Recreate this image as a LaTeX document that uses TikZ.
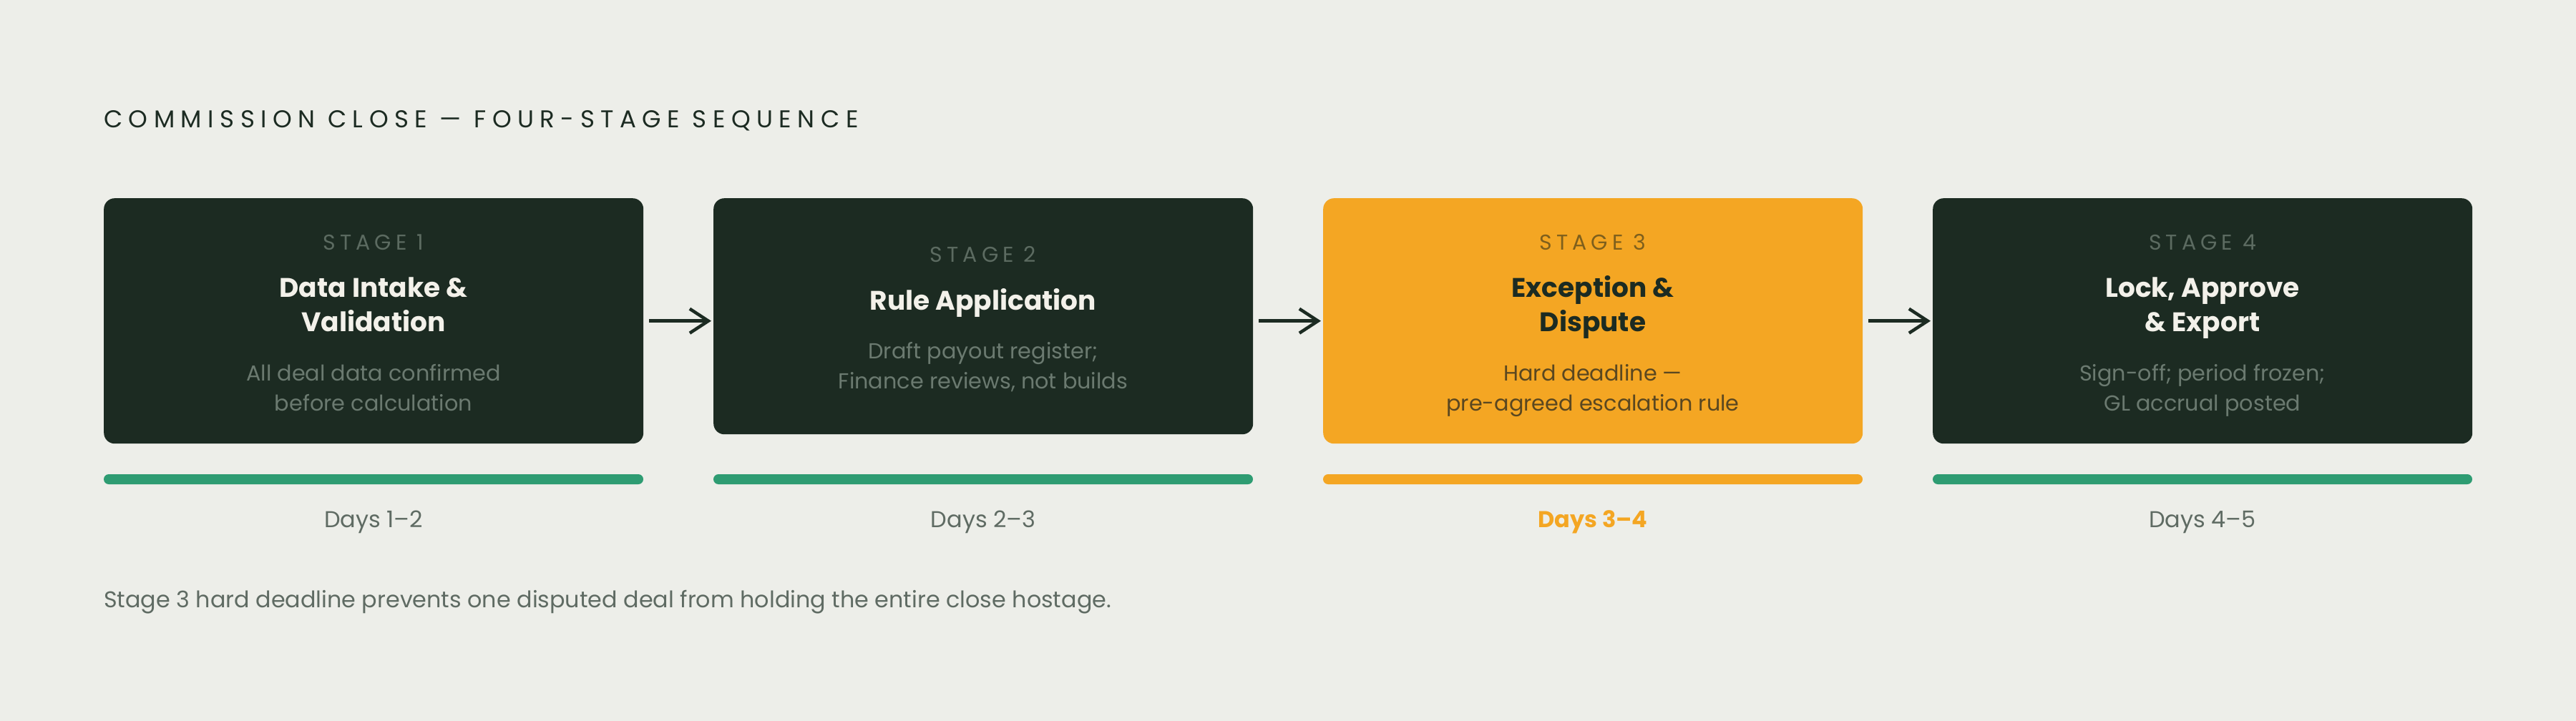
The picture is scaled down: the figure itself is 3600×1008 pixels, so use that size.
\documentclass[tikz,border=0pt]{standalone}
\usepackage{fontspec}
\setmainfont{Poppins}
\newfontfamily\trackedfont[LetterSpace=25]{Poppins}
\newfontfamily\stagefont[LetterSpace=20]{Poppins}
\usepackage{xcolor}
\usepackage{tikz}
\usetikzlibrary{arrows.meta}
\definecolor{paper}{HTML}{EDEEE9}
\definecolor{forest}{HTML}{1C2B22}
\definecolor{amber}{HTML}{F4A623}
\definecolor{mint}{HTML}{2E9C72}
\definecolor{stagegrey}{HTML}{5C6B61}
\definecolor{descgrey}{HTML}{6B7A70}
\definecolor{labelgrey}{HTML}{5F6B63}
\definecolor{offwhite}{HTML}{F3F1EA}
\definecolor{stagebrown}{HTML}{7E5F1C}
\definecolor{descbrown}{HTML}{5A4720}

\begin{document}
\begin{tikzpicture}[x=1pt, y=-1pt,
  stagebox/.style={rounded corners=15pt, minimum width=754pt, anchor=north west, inner sep=0pt},
  txt/.style={inner sep=0pt, anchor=base, align=center},
  taglabel/.style={txt, font=\stagefont\fontsize{30}{36}\selectfont},
  headlabel/.style={txt, font=\bfseries\fontsize{37.5}{48}\selectfont},
  desclabel/.style={txt, font=\fontsize{30.3}{41.5}\selectfont},
  daylabel/.style={txt, font=\fontsize{32}{38}\selectfont},
  flow/.style={-{Straight Barb[length=26pt, width=34pt]}, line width=4.5pt, forest, shorten <=8pt, shorten >=3pt}]

% Canvas
\fill[paper] (0,0) rectangle (3600,1008);
\useasboundingbox (0,0) rectangle (3600,1008);

% Heading
\node[inner sep=0pt, anchor=base west, text=forest, font=\trackedfont\fontsize{34}{40}\selectfont] (heading) at (145,179) {COMMISSION CLOSE — FOUR-STAGE SEQUENCE};

% Stage boxes
\node[stagebox, fill=forest, minimum height=343pt] (s1) at (145,277) {};
\node[stagebox, fill=forest, minimum height=330pt] (s2) at (997,277) {};
\node[stagebox, fill=amber, minimum height=343pt] (s3) at (1849,277) {};
\node[stagebox, fill=forest, minimum height=343pt] (s4) at (2701,277) {};

% Stage 1 text (base = last line)
\node[taglabel, text=stagegrey] (s1tag) at (522,349) {STAGE 1};
\node[headlabel, text=offwhite] (s1head) at (522,463) {Data Intake \&\\Validation};
\node[desclabel, text=descgrey] (s1desc) at (522,574) {All deal data confirmed\\before calculation};

% Stage 2 text
\node[taglabel, text=stagegrey] (s2tag) at (1374,366) {STAGE 2};
\node[headlabel, text=offwhite] (s2head) at (1374,433) {Rule Application};
\node[desclabel, text=descgrey] (s2desc) at (1374,543) {Draft payout register;\\Finance reviews, not builds};

% Stage 3 text (highlighted)
\node[taglabel, text=stagebrown] (s3tag) at (2226,349) {STAGE 3};
\node[headlabel, text=forest] (s3head) at (2226,463) {Exception \&\\Dispute};
\node[desclabel, text=descbrown] (s3desc) at (2226,574) {Hard deadline —\\pre-agreed escalation rule};

% Stage 4 text
\node[taglabel, text=stagegrey] (s4tag) at (3078,349) {STAGE 4};
\node[headlabel, text=offwhite] (s4head) at (3078,463) {Lock, Approve\\\& Export};
\node[desclabel, text=descgrey] (s4desc) at (3078,574) {Sign-off; period frozen;\\GL accrual posted};

% Arrows between stages
\draw[flow] (s1.east) -- (s2.west |- s1.east);
\draw[flow] (s2.east |- s3.west) -- (s3.west);
\draw[flow] (s3.east) -- (s4.west);

% Timeline bars
\fill[mint, rounded corners=7pt] (145,663) rectangle (899,677);
\fill[mint, rounded corners=7pt] (997,663) rectangle (1751,677);
\fill[amber, rounded corners=7pt] (1849,663) rectangle (2603,677);
\fill[mint, rounded corners=7pt] (2701,663) rectangle (3455,677);

% Day ranges
\node[daylabel, text=labelgrey] (d1) at (522,737) {Days 1–2};
\node[daylabel, text=labelgrey] (d2) at (1374,737) {Days 2–3};
\node[daylabel, text=amber, font=\bfseries\fontsize{32}{38}\selectfont] (d3) at (2226,737) {Days 3–4};
\node[daylabel, text=labelgrey] (d4) at (3078,737) {Days 4–5};

% Footnote
\node[inner sep=0pt, anchor=base west, text=labelgrey, font=\fontsize{31.8}{38}\selectfont] (note) at (145,849) {Stage 3 hard deadline prevents one disputed deal from holding the entire close hostage.};

\end{tikzpicture}
\end{document}
